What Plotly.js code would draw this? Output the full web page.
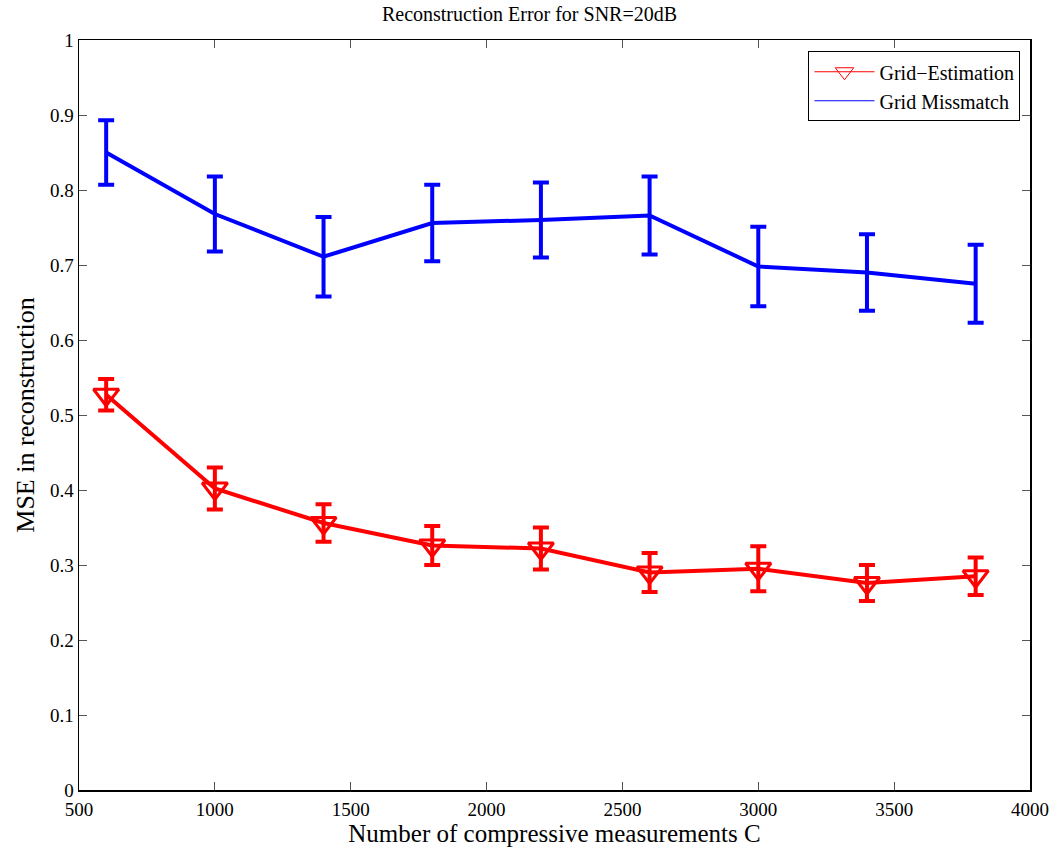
<!DOCTYPE html>
<html>
<head>
<meta charset="utf-8">
<script src="https://cdn.plot.ly/plotly-3.0.1.min.js"></script>
<style>html,body{margin:0;padding:0;background:#fff;}#chart{width:1059px;height:850px;}</style>
</head>
<body>
<div id="chart"></div>
<script>
const measurements = [600, 1000, 1400, 1800, 2200, 2600, 3000, 3400, 3800];
const gridEstimation = [0.527, 0.402, 0.356, 0.326, 0.322, 0.290, 0.295, 0.276, 0.285];
const gridEstimationErr = [0.021, 0.028, 0.025, 0.026, 0.028, 0.026, 0.030, 0.024, 0.025];
const gridMissmatch = [0.850, 0.768, 0.711, 0.756, 0.760, 0.766, 0.698, 0.690, 0.675];
const gridMissmatchErr = [0.043, 0.050, 0.053, 0.051, 0.050, 0.052, 0.053, 0.051, 0.052];
const seriesNames = ["Grid\u2212Estimation", "Grid Missmatch"];

const font = "Liberation Serif, Times New Roman, serif";

const traces = [
  {
    x: measurements, y: gridMissmatch, type: "scatter", mode: "lines",
    line: {color: "#0000ff", width: 4},
    error_y: {type: "data", array: gridMissmatchErr, visible: true, color: "#0000ff", thickness: 4, width: 8},
    showlegend: false, hoverinfo: "x+y"
  },
  {
    x: measurements, y: gridEstimation, type: "scatter", mode: "lines+markers",
    line: {color: "#ff0000", width: 4},
    marker: {symbol: "triangle-down-open", size: 22, color: "#ff0000", line: {color: "#ff0000", width: 3}},
    error_y: {type: "data", array: gridEstimationErr, visible: true, color: "#ff0000", thickness: 4, width: 8},
    showlegend: false, hoverinfo: "x+y"
  },
  {
    x: [null], y: [null], type: "scatter", mode: "lines+markers", name: seriesNames[0],
    line: {color: "#ff0000", width: 1},
    marker: {symbol: "triangle-down-open", size: 16, color: "#ff0000", line: {color: "#ff0000", width: 1}}
  },
  {
    x: [null], y: [null], type: "scatter", mode: "lines", name: seriesNames[1],
    line: {color: "#0000ff", width: 1}
  }
];

const axisCommon = {
  showline: true, linecolor: "#000", linewidth: 1.5, mirror: "allticks",
  ticks: "inside", ticklen: 8, tickcolor: "#555", tickwidth: 1,
  showgrid: false, zeroline: false,
  tickfont: {family: font, size: 19, color: "#000"}
};

const layout = {
  width: 1059, height: 850,
  margin: {l: 79, r: 29, t: 40, b: 60},
  paper_bgcolor: "#fff", plot_bgcolor: "#fff",
  font: {family: font, color: "#000"},
  title: {text: "Reconstruction Error for SNR=20dB", font: {family: font, size: 20, color: "#000"}, x: 0.5, xanchor: "center", y: 0.984, yanchor: "middle"},
  xaxis: Object.assign({}, axisCommon, {
    range: [500, 4000], dtick: 500, tick0: 500, ticklabelstandoff: 2,
    title: {text: "Number of compressive measurements C", font: {family: font, size: 25, color: "#000"}, standoff: 5}
  }),
  yaxis: Object.assign({}, axisCommon, {
    range: [0, 1], dtick: 0.1, tick0: 0,
    title: {text: "MSE in reconstruction", font: {family: font, size: 26, color: "#000"}, standoff: 8}
  }),
  legend: {
    x: 0.99, y: 0.985, xanchor: "right", yanchor: "top",
    bgcolor: "#fff", bordercolor: "#000", borderwidth: 1,
    font: {family: font, size: 20, color: "#000"},
    tracegroupgap: 0, itemwidth: 60
  },
  showlegend: true
};

Plotly.newPlot("chart", traces, layout, {displayModeBar: false, staticPlot: true});
</script>
</body>
</html>
